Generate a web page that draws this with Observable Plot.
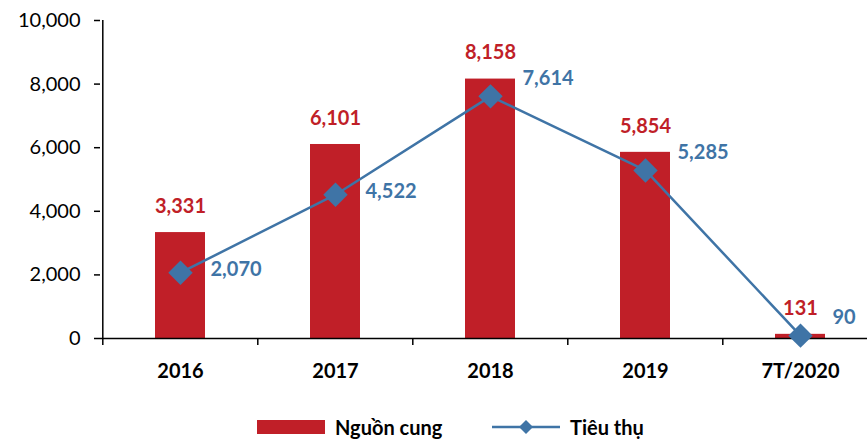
<!DOCTYPE html>
<html>
<head>
<meta charset="utf-8">
<script src="https://cdn.jsdelivr.net/npm/d3@7"></script>
<script src="https://cdn.jsdelivr.net/npm/@observablehq/plot@0.6"></script>
<style>
  html, body { margin: 0; padding: 0; background: #fff; overflow: hidden; }
  body { width: 867px; height: 439px; font-family: Lato, "Liberation Sans", sans-serif; }
  #legend { position: relative; height: 64px; }
  .item { position: absolute; top: 0; display: flex; align-items: center; font-weight: bold; font-size: 20px; color: #000; }
</style>
</head>
<body>
<div id="chart"></div>
<div id="legend"></div>
<script>
const categories = ["2016", "2017", "2018", "2019", "7T/2020"];
const supply = [3331, 6101, 8158, 5854, 131];        // Nguồn cung
const consumption = [2070, 4522, 7614, 5285, 90];    // Tiêu thụ
const yTicks = [0, 2000, 4000, 6000, 8000, 10000];
const seriesNames = ["Nguồn cung", "Tiêu thụ"];

const RED = "#C01F28";
const BLUE = "#3F74A6";

const data = categories.map((c, i) => ({cat: c, supply: supply[i], consumption: consumption[i], i}));
const half = (878 - 101) / categories.length / 2;
const fmt = d3.format(",");

const chart = Plot.plot({
  width: 867,
  height: 380,
  marginTop: 20,
  marginBottom: 42,
  marginLeft: 100,
  marginRight: 0,
  style: {fontFamily: "Lato, 'Liberation Sans', sans-serif", background: "#fff", color: "#000", overflow: "visible"},
  x: {domain: categories, range: [101, 878], paddingInner: 0.68, paddingOuter: 0.34},
  y: {domain: [0, 10000], range: [338, 20]},
  marks: [
    Plot.barY(data, {x: "cat", y: "supply", fill: RED}),
    Plot.ruleY([0], {stroke: "#000", strokeWidth: 1.5}),
    Plot.ruleX([categories[0]], {y1: 0, y2: 10000, dx: -half, stroke: "#000", strokeWidth: 1.5}),
    Plot.axisY({ticks: yTicks, tickFormat: fmt, tickSize: 6, tickPadding: 14, fontSize: 20, stroke: "#000", strokeWidth: 1.5, label: null}),
    Plot.axisX({tickSize: 7, tickFormat: () => "", dx: -half, stroke: "#000", strokeWidth: 1.5, label: null}),
    Plot.axisX({tickSize: 0, tickPadding: 25, fontSize: 20, fontWeight: "bold", label: null}),
    Plot.line(data, {x: "cat", y: "consumption", stroke: BLUE, strokeWidth: 2.5}),
    Plot.dot(data, {x: "cat", y: "consumption", symbol: "diamond2", r: 11, fill: BLUE, stroke: "none"}),
    Plot.text(data, {x: "cat", y: "supply", text: d => fmt(d.supply), dy: -26, fill: RED, fontSize: 20, fontWeight: "bold"}),
    Plot.text(data.filter(d => d.i < 2), {x: "cat", y: "consumption", text: d => fmt(d.consumption), dx: 30, dy: -3, textAnchor: "start", fill: BLUE, fontSize: 20, fontWeight: "bold"}),
    Plot.text(data.filter(d => d.i >= 2), {x: "cat", y: "consumption", text: d => fmt(d.consumption), dx: 32, dy: -18, textAnchor: "start", fill: BLUE, fontSize: 20, fontWeight: "bold"})
  ]
});
document.getElementById("chart").appendChild(chart);

const legend = document.getElementById("legend");
legend.innerHTML = `
  <div class="item" style="left:257px; top:35px;">
    <span style="display:inline-block;width:68px;height:14px;background:${RED};margin-right:10px;"></span>${seriesNames[0]}
  </div>
  <div class="item" style="left:492px; top:35px;">
    <svg width="68" height="20" style="margin-right:10px"><line x1="0" x2="68" y1="10" y2="10" stroke="${BLUE}" stroke-width="2.5"/><path d="M34,3 L41,10 L34,17 L27,10 Z" fill="${BLUE}"/></svg>${seriesNames[1]}
  </div>`;
</script>
</body>
</html>
